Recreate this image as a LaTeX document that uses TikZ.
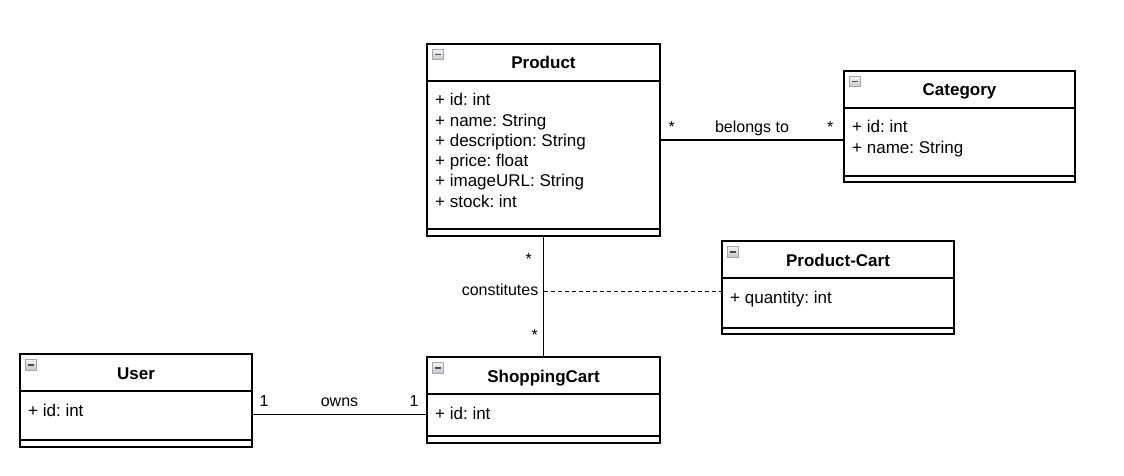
\documentclass[tikz,border=0pt]{standalone}
\usepackage{fontspec}
\setmainfont{Liberation Sans}
\frenchspacing
\usetikzlibrary{positioning}

\tikzset{
  classbox/.style={draw, line width=1.4pt, inner sep=0pt, outer sep=0pt, anchor=north west},
  classname/.style={draw, line width=1.4pt, inner sep=0pt, outer sep=0pt, anchor=north west,
    minimum height=37pt, text height=14pt, text depth=1pt, font=\fontsize{17}{20}\selectfont\bfseries},
  classops/.style={draw, line width=1.4pt, inner sep=0pt, outer sep=0pt, anchor=south west,
    minimum height=7pt},
  attr/.style={anchor=base west, inner sep=0pt, font=\fontsize{17}{20}\selectfont},
  toggle/.style={draw=gray!70, top color=gray!8, bottom color=blue!15!gray!40, line width=0.7pt,
    minimum size=10.5pt, inner sep=0pt, anchor=north west, path picture={
      \draw[line width=1.8pt, black!70] ([xshift=2.2pt]path picture bounding box.west)
        -- ([xshift=-2.2pt]path picture bounding box.east);}},
  rolelabel/.style={inner sep=0pt, font=\fontsize{16}{19}\selectfont},
  assoc/.style={line width=1.2pt},
}

\begin{document}
\begin{tikzpicture}[x=1pt, y=-1pt]
\useasboundingbox (0,0) rectangle (1124,476);

% classes
\node[classbox, minimum width=233pt, minimum height=192pt] (product) at (427,44) {};
\node[classname, minimum width=233pt] (product-name) at (product.north west) {Product};
\node[classops, minimum width=233pt] (product-ops) at (product.south west) {};
\node[toggle] (product-toggle) at ([xshift=5pt,yshift=-5pt]product.north west) {};
\foreach \a [count=\i] in {+ id: int, + name: String, + description: String, + price: float, + imageURL: String, + stock: int}
  \node[attr] (product-attr-\i) at ([xshift=8pt,yshift={-41.8pt-20.2pt*\i}]product.north west) {\a};

\node[classbox, minimum width=231pt, minimum height=111pt] (category) at (844,71) {};
\node[classname, minimum width=231pt] (category-name) at (category.north west) {Category};
\node[classops, minimum width=231pt, minimum height=6pt] (category-ops) at (category.south west) {};
\node[toggle] (category-toggle) at ([xshift=5pt,yshift=-5pt]category.north west) {};
\foreach \a [count=\i] in {+ id: int, + name: String}
  \node[attr] (category-attr-\i) at ([xshift=8pt,yshift={-41.8pt-20.2pt*\i}]category.north west) {\a};

\node[classbox, minimum width=232pt, minimum height=93pt] (pcart) at (722,241) {};
\node[classname, minimum width=232pt] (pcart-name) at (pcart.north west) {Product-Cart};
\node[classops, minimum width=232pt, minimum height=6pt] (pcart-ops) at (pcart.south west) {};
\node[toggle] (pcart-toggle) at ([xshift=5pt,yshift=-5pt]pcart.north west) {};
\node[attr] (pcart-attr-1) at ([xshift=8pt,yshift=-62pt]pcart.north west) {+ quantity: int};

\node[classbox, minimum width=232pt, minimum height=93pt] (user) at (20,354) {};
\node[classname, minimum width=232pt] (user-name) at (user.north west) {User};
\node[classops, minimum width=232pt] (user-ops) at (user.south west) {};
\node[toggle] (user-toggle) at ([xshift=5pt,yshift=-5pt]user.north west) {};
\node[attr] (user-attr-1) at ([xshift=8pt,yshift=-62pt]user.north west) {+ id: int};

\node[classbox, minimum width=233pt, minimum height=86pt] (cart) at (427,357) {};
\node[classname, minimum width=233pt] (cart-name) at (cart.north west) {ShoppingCart};
\node[classops, minimum width=233pt] (cart-ops) at (cart.south west) {};
\node[toggle] (cart-toggle) at ([xshift=5pt,yshift=-5pt]cart.north west) {};
\node[attr] (cart-attr-1) at ([xshift=8pt,yshift=-62pt]cart.north west) {+ id: int};

% associations
\draw[assoc] (product.east) -- (category.west |- product.east)
  node[rolelabel, pos=0, anchor=base west, shift={(8pt,8pt)}] (belongs-src) {*}
  node[rolelabel, midway, anchor=base, yshift=8pt] (belongs) {belongs to}
  node[rolelabel, pos=1, anchor=base east, shift={(-10pt,8pt)}] (belongs-dst) {*};

\draw[assoc] (product.south) -- coordinate[pos=0.46] (constitutes-mid) (cart.north)
  node[rolelabel, pos=0, anchor=base east, shift={(-11pt,-28pt)}] (constitutes-src) {*}
  node[rolelabel, pos=1, anchor=base east, shift={(-5pt,17pt)}] (constitutes-dst) {*};
\node[rolelabel, anchor=base east] (constitutes) at ([xshift=-5pt,yshift=-4pt]constitutes-mid) {constitutes};
\draw[assoc, dash pattern=on 4pt off 3pt] (constitutes-mid) -- (pcart.west |- constitutes-mid);

\coordinate (owns-start) at ([yshift=-14pt]user.east);
\draw[assoc] (owns-start) -- (owns-start -| cart.west)
  node[rolelabel, pos=0, anchor=base west, shift={(7pt,8pt)}] (owns-src) {1}
  node[rolelabel, midway, anchor=base, yshift=8pt] (owns) {owns}
  node[rolelabel, pos=1, anchor=base east, shift={(-8pt,8pt)}] (owns-dst) {1};
\end{tikzpicture}
\end{document}
